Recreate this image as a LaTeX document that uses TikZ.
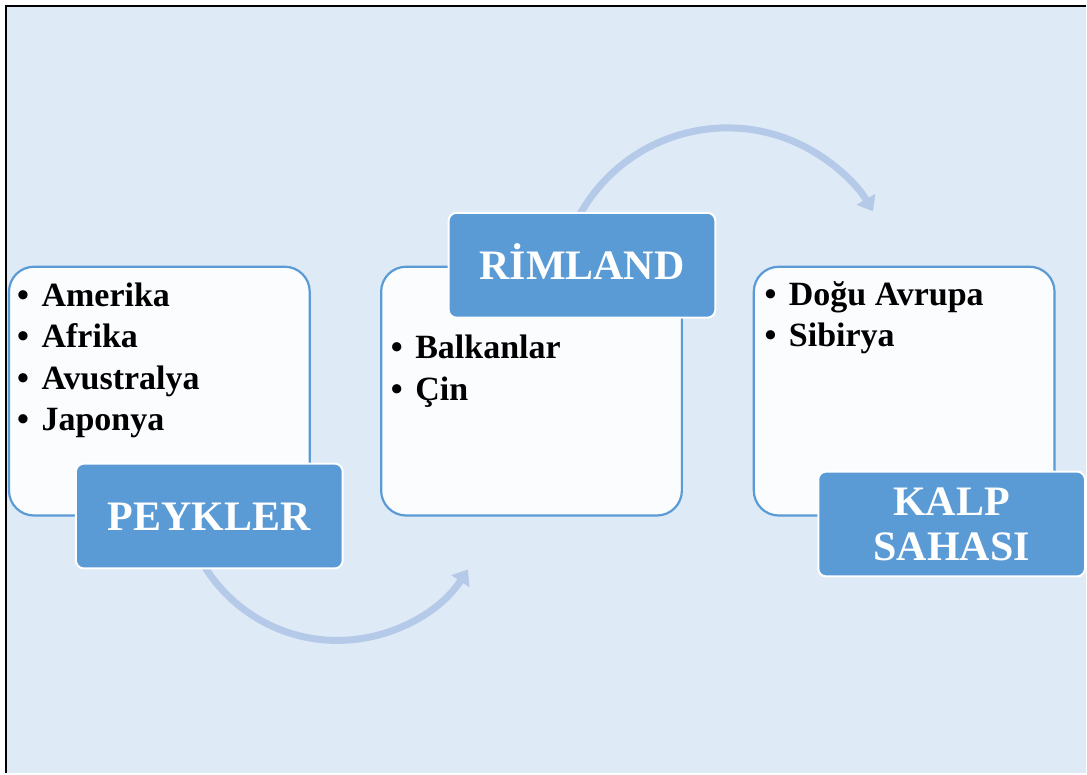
\documentclass[tikz,border=0pt]{standalone}
\usepackage{fontspec}
\setmainfont{Liberation Serif}
\usetikzlibrary{arrows.meta}
\definecolor{bgblue}{RGB}{222,234,246}
\definecolor{midblue}{RGB}{91,155,213}
\definecolor{paleblue}{RGB}{181,201,232}
\definecolor{boxwhite}{RGB}{251,252,254}
\newcommand{\blt}{\makebox[24.5pt][l]{•}}

\begin{document}
\begin{tikzpicture}[x=1pt,y=1pt]
        \tikzstyle{region}=[draw=midblue, line width=2.2pt, fill=boxwhite, rounded corners=25pt, minimum width=301pt, minimum height=249pt, inner sep=0pt]
        \tikzstyle{title}=[draw=white, line width=2pt, fill=midblue, rounded corners=8pt, minimum width=267pt, minimum height=105pt, inner sep=0pt, text=white, font=\bfseries\fontsize{42}{45}\selectfont, align=center]
        \tikzstyle{items}=[anchor=north west, inner sep=0pt, align=left, font=\bfseries\fontsize{34}{41.5}\selectfont]
        \tikzstyle{turn}=[draw=paleblue, line width=7pt, -{Triangle[width=21pt,length=14pt]}]
        % page and frame
        \fill[white] (0,0) rectangle (1087,774);
        \fill[bgblue] (6,0) rectangle (1087,768);
        \draw[line width=2pt] (6,0) -- (6,768) -- (1087,768);
        % the three regions
        \node[region] (peyk) at (159.5,382.5) {};
        \node[region] (rim) at (532,382.5) {};
        \node[region] (kalp) at (905,382.5) {};
        % curved arrows
        \coordinate (lowstart) at (205.2,206.3);
        \coordinate (highstart) at (580.2,558.9);
        \draw[turn] (lowstart) arc[start angle=212, end angle=327, radius=156];
        \draw[turn] (highstart) arc[start angle=151, end angle=30.4, radius=169];
        % titles
        \node[title, text height=28.4pt, text depth=0pt] (peyktitle) at (209.5,257.5) {PEYKLER};
        \node[title, text height=28.4pt, text depth=0pt] (rimtitle) at (582.5,508.5) {RİMLAND};
        \node[title] (kalptitle) at (952.5,249.5) {KALP\\SAHASI};
        % lists
        \node[items] (peyklist) at (17,491) {\blt Amerika\\\blt Afrika\\\blt Avustralya\\\blt Japonya};
        \node[items] (rimlist) at (391,438.5) {\blt Balkanlar\\\blt Çin};
        \node[items] (kalplist) at (765,492.5) {\blt Doğu Avrupa\\\blt Sibirya};
\end{tikzpicture}
\end{document}
